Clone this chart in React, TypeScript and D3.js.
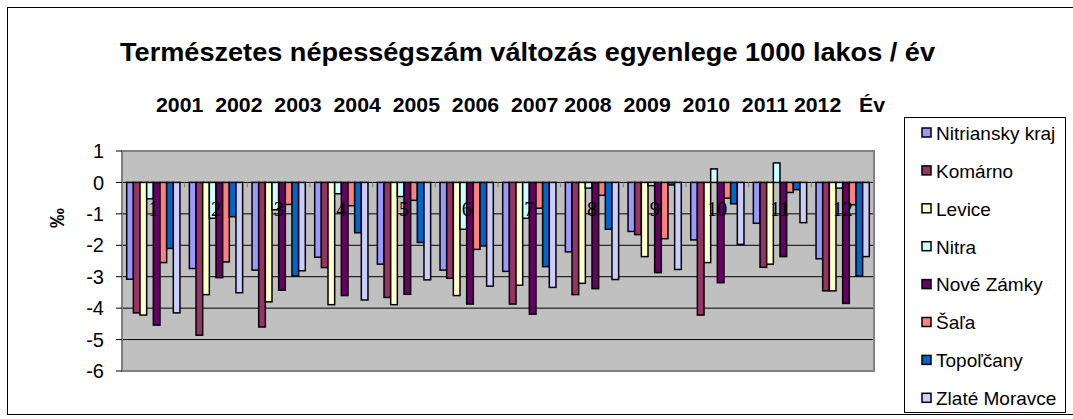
import React from "react";
import * as d3 from "d3";

const title = "Természetes népességszám változás egyenlege 1000 lakos / év";
const subtitle = "2001  2002  2003  2004  2005  2006  2007 2008  2009  2010  2011 2012   Év";
const yAxisTitle = "‰";
const categories = ["1", "2", "3", "4", "5", "6", "7", "8", "9", "10", "11", "12"];
const seriesNames = ["Nitriansky kraj", "Komárno", "Levice", "Nitra", "Nové Zámky", "Šaľa", "Topoľčany", "Zlaté Moravce"];
const seriesColors = ["#9999FF", "#993366", "#FFFFCC", "#CCFFFF", "#660066", "#FF8080", "#0066CC", "#CCCCFF"];
const yTicks = [1, 0, -1, -2, -3, -4, -5, -6];

const nitrianskyKraj = [-3.08, -2.74, -2.79, -2.38, -2.6, -2.79, -2.83, -2.21, -1.56, -1.83, -1.3, -2.43];
const komarno = [-4.15, -4.86, -4.6, -2.71, -3.66, -3.05, -3.87, -3.57, -1.66, -4.22, -2.7, -3.45];
const levice = [-4.22, -3.57, -3.8, -3.89, -3.89, -3.6, -3.27, -3.21, -2.36, -2.55, -2.6, -3.45];
const nitra = [-0.52, -1.14, -0.87, -0.36, -0.45, -1.49, -1.14, -0.18, -0.1, 0.43, 0.62, -0.18];
const noveZamky = [-4.54, -3.03, -3.43, -3.6, -3.56, -3.87, -4.19, -3.38, -2.87, -3.19, -2.36, -3.85];
const sala = [-2.55, -2.53, -0.7, -0.74, -0.57, -2.13, -0.82, -0.41, -1.79, -0.5, -0.32, -0.71];
const topolcany = [-2.1, -1.09, -2.98, -1.6, -1.91, -2.02, -2.68, -1.49, -0.08, -0.68, -0.23, -2.98];
const zlateMoravce = [-4.15, -3.51, -2.81, -3.74, -3.1, -3.3, -3.34, -3.09, -2.77, -1.97, -1.28, -2.36];

const seriesValues = [nitrianskyKraj, komarno, levice, nitra, noveZamky, sala, topolcany, zlateMoravce];

export default function App() {
  const W = 1073, H = 419;
  const plotL = 122, plotR = 874, plotT = 151, plotB = 371;
  const x = d3.scaleBand<string>().domain(categories).range([plotL, plotR]).padding(0);
  const bw = x.bandwidth();
  const gap = bw * 0.15;
  const xs = d3.scaleBand<string>().domain(seriesNames).range([gap / 2, bw - gap / 2]).padding(0);
  const y = d3.scaleLinear().domain([1, -6]).range([plotT, plotB]);
  const y0 = y(0);
  const font = "Arial, 'Liberation Sans', sans-serif";

  const legendX = 904, legendY = 117, legendW = 161, legendH = 295, legendStep = 37.9;

  return (
    <svg width={W} height={H} style={{ position: "absolute", left: 0, top: 0, background: "#fff" }}>
      <rect x={0} y={0} width={W} height={H} fill="#fff" />
      <rect x={7.5} y={7.5} width={1080} height={407} fill="#fff" stroke="#000" strokeWidth={1} />
      <text x={120} y={61} textLength={815} lengthAdjust="spacingAndGlyphs" fontFamily={font} fontWeight="bold" fontSize={25}>{title}</text>
      <text x={156} y={112} textLength={729} lengthAdjust="spacingAndGlyphs" fontFamily={font} fontWeight="bold" fontSize={20} style={{ whiteSpace: "pre" }} xmlSpace="preserve">{subtitle}</text>

      <rect x={plotL} y={plotT} width={plotR - plotL} height={plotB - plotT} fill="#C0C0C0" />
      {yTicks.map((t) => (
        <line key={"g" + t} x1={plotL} x2={plotR} y1={y(t)} y2={y(t)} stroke="#000" strokeWidth={1} />
      ))}
      <rect x={plotL} y={plotT} width={plotR - plotL} height={plotB - plotT} fill="none" stroke="#808080" strokeWidth={2} />

      {yTicks.map((t) => (
        <g key={"t" + t}>
          <line x1={plotL - 6} x2={plotL} y1={y(t)} y2={y(t)} stroke="#000" strokeWidth={1} />
          <text x={104} y={y(t)} dy="0.36em" textAnchor="end" fontFamily={font} fontSize={20}>{t}</text>
        </g>
      ))}
      <text transform={`translate(64,218) rotate(-90)`} textAnchor="middle" fontFamily={font} fontWeight="bold" fontSize={20}>{yAxisTitle}</text>

      {categories.map((c) => (
        <line key={"ct" + c} x1={(x(c) as number) + bw} x2={(x(c) as number) + bw} y1={y0} y2={y0 + 5} stroke="#808080" strokeWidth={1} />
      ))}

      {seriesNames.map((s, si) => (
        <g key={s}>
          {categories.map((c, ci) => {
            const v = seriesValues[si][ci];
            const bx = (x(c) as number) + (xs(s) as number);
            const top = Math.min(y(v), y0);
            const h = Math.abs(y(v) - y0);
            return <rect key={c} x={bx} y={top} width={xs.bandwidth()} height={h} fill={seriesColors[si]} stroke="#000" strokeWidth={1.5} />;
          })}
        </g>
      ))}

      {categories.map((c) => (
        <text key={"cl" + c} x={(x(c) as number) + bw / 2} y={216} textAnchor="middle" fontFamily="'Times New Roman', 'Liberation Serif', serif" fontSize={20}>{c}</text>
      ))}

      <rect x={legendX + 0.5} y={legendY + 0.5} width={legendW} height={legendH} fill="#fff" stroke="#000" strokeWidth={1} />
      {seriesNames.map((s, i) => {
        const cy = legendY + 16 + i * legendStep;
        return (
          <g key={"l" + s}>
            <rect x={legendX + 18} y={cy - 5} width={9} height={9} fill={seriesColors[i]} stroke="#000" strokeWidth={1.5} />
            <text x={legendX + 32} y={cy} dy="0.36em" fontFamily={font} fontSize={19}>{s}</text>
          </g>
        );
      })}
    </svg>
  );
}
